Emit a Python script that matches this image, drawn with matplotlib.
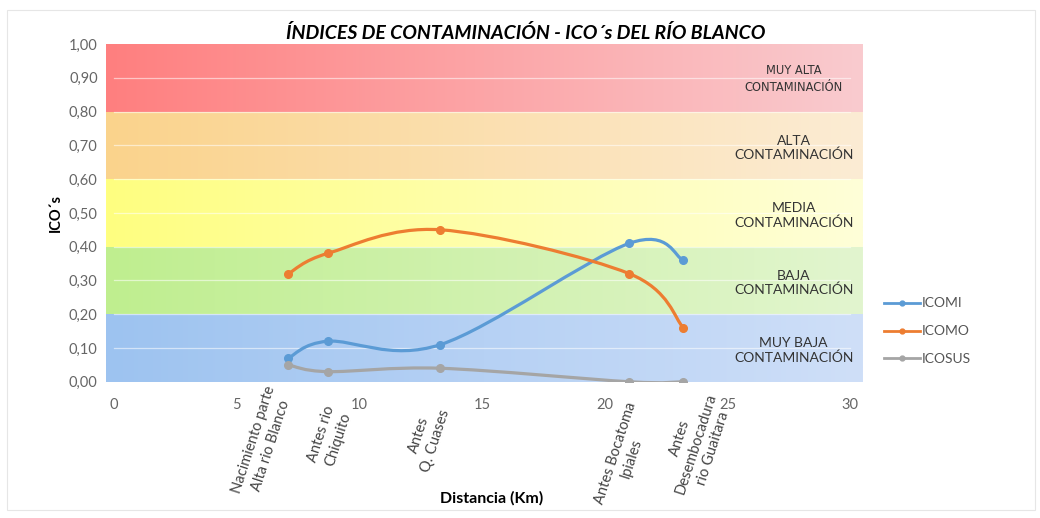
"""
Índices de contaminación - ICO's del río Blanco
"""
import numpy as np
import matplotlib.pyplot as plt
from matplotlib.path import Path
from matplotlib.patches import PathPatch, Rectangle
from matplotlib.lines import Line2D
from matplotlib.colors import to_rgb

plt.rcParams['font.family'] = ['Lato', 'DejaVu Sans']

# datos
distancia = [7.1, 8.7, 13.3, 21.0, 23.2]
estaciones = ['Nacimiento parte\nAlta rio Blanco', 'Antes rio\nChiquito', 'Antes\nQ. Cuases',
              'Antes Bocatoma\nIpiales', 'Antes\nDesembocadura\nrio Guaitara']
icomi = [0.07, 0.12, 0.11, 0.41, 0.36]
icomo = [0.32, 0.38, 0.45, 0.32, 0.16]
icosus = [0.05, 0.03, 0.04, 0.00, 0.00]
series_nombres = ['ICOMI', 'ICOMO', 'ICOSUS']

limites = [0.0, 0.2, 0.4, 0.6, 0.8, 1.0]
rangos = ['MUY BAJA\nCONTAMINACIÓN', 'BAJA\nCONTAMINACIÓN', 'MEDIA\nCONTAMINACIÓN',
          'ALTA\nCONTAMINACIÓN', 'MUY ALTA\nCONTAMINACIÓN']

# colores de las bandas (izquierda -> derecha)
bandas = [('#9dc3f0', '#cfdff8'), ('#bfee8f', '#e2f5cf'), ('#ffff80', '#fefed8'),
          ('#fad38c', '#fcecd4'), ('#ff7f7f', '#f9cbcf')]
colores = ['#5b9bd5', '#ed7d31', '#a5a5a5']

# desplazamiento de las etiquetas de estaciones (centro del bloque rotado)
desp_etiquetas = [(-1.06, -0.180), (0.08, -0.163), (-0.53, -0.166), (-0.24, -0.219), (0.53, -0.183)]


def curva_suave(x, y):
    """Bezier tipo Excel (Catmull-Rom) que pasa por los puntos"""
    p = np.column_stack([np.asarray(x, float), np.asarray(y, float)])
    verts = [p[0]]
    codes = [Path.MOVETO]
    n = len(p)
    for i in range(n - 1):
        p0 = p[i - 1] if i > 0 else p[i]
        p3 = p[i + 2] if i + 2 < n else p[i + 1]
        c1 = p[i] + (p[i + 1] - p0) / 6.0
        c2 = p[i + 1] - (p3 - p[i]) / 6.0
        verts += [c1, c2, p[i + 1]]
        codes += [Path.CURVE4] * 3
    return Path(verts, codes)


fig = plt.figure(figsize=(10.4, 5.18), dpi=100)
fig.patches.append(Rectangle((0.007, 0.015), 0.988, 0.965, transform=fig.transFigure,
                             fill=False, edgecolor='#e6e6e6', linewidth=0.8))
ax = fig.add_axes([0.102, 0.263, 0.727, 0.652])
x0, x1 = -0.33, 30.49

# bandas con degradado
for (c_izq, c_der), y0, y1 in zip(bandas, limites[:-1], limites[1:]):
    a = np.array(to_rgb(c_izq))
    b = np.array(to_rgb(c_der))
    t = np.linspace(0, 1, 256)[None, :, None]
    img = a + (b - a) * t
    ax.imshow(img, extent=[x0, x1, y0, y1], aspect='auto', zorder=0, interpolation='bilinear')

ax.set_xlim(x0, x1)
ax.set_ylim(0, 1)

# líneas de cuadrícula
for yv in np.arange(0.1, 1.0, 0.1):
    ax.plot([0, 30], [yv, yv], color='white', lw=0.9, alpha=0.55, zorder=1)

# etiquetas de rangos
for texto, y0, y1 in zip(rangos, limites[:-1], limites[1:]):
    if texto.startswith('MUY ALTA'):
        ax.text(27.7, (y0 + y1) / 2 - 0.005, texto, ha='center', va='center', fontsize=8.3,
                family=['DejaVu Sans'], color='#333333', linespacing=1.4, zorder=2)
    else:
        ax.text(27.7, (y0 + y1) / 2 - 0.008, texto, ha='center', va='center', fontsize=10,
                color='#333333', linespacing=1.2, zorder=2)

# series
for valores, color in zip([icomi, icomo, icosus], colores):
    ax.add_patch(PathPatch(curva_suave(distancia, valores), facecolor='none',
                           edgecolor=color, lw=2.3, zorder=3, capstyle='round'))
    ax.plot(distancia, valores, 'o', color=color, ms=5.5, zorder=4)

# ejes
for s in ax.spines.values():
    s.set_visible(False)
ax.set_xticks([0, 5, 10, 15, 20, 25, 30])
ax.set_yticks(np.arange(0, 1.01, 0.1))
ax.set_yticklabels([f'{v:.2f}'.replace('.', ',') for v in np.arange(0, 1.01, 0.1)])
ax.tick_params(length=0, labelsize=10.5, labelcolor='#666666')
ax.tick_params(axis='x', pad=12)
ax.tick_params(axis='y', pad=6)
ax.set_ylabel('ICO´s', fontsize=10.5, fontweight='bold', labelpad=4)

# nombres de estaciones
for xv, nombre, (dx, yv) in zip(distancia, estaciones, desp_etiquetas):
    ax.text(xv + dx, yv, nombre, rotation=72, rotation_mode='anchor', ha='center', va='center',
            multialignment='center', fontsize=10.5, color='#444444', clip_on=False,
            linespacing=1.3)

fig.text(0.473, 0.03, 'Distancia (Km)', ha='center', fontsize=11.5, fontweight='bold')
fig.text(0.505, 0.925, 'ÍNDICES DE CONTAMINACIÓN - ICO´s DEL RÍO BLANCO', ha='center',
         fontsize=14, fontweight='bold', style='italic')

# leyenda
handles = [Line2D([], [], color=c, lw=2, marker='o', ms=3.5) for c in colores]
leg = fig.legend(handles, series_nombres, loc='upper left', bbox_to_anchor=(0.838, 0.45),
                 frameon=False, fontsize=10, handlelength=2.6, handletextpad=0.1,
                 labelspacing=1.15)
for t in leg.get_texts():
    t.set_color('#555555')

fig.savefig('out.png', dpi=100, facecolor='white')
